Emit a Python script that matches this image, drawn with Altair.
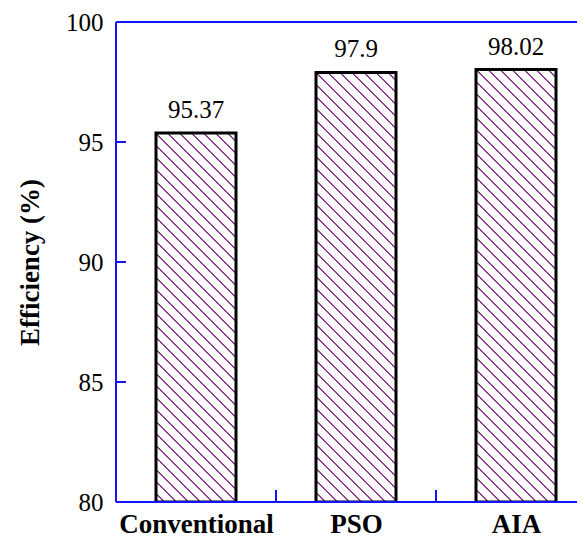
import json
import altair as alt
import pandas as pd

# ---- data ----
categories = ["Conventional", "PSO", "AIA"]
efficiency = [95.37, 97.9, 98.02]
y_tick_values = [80, 85, 90, 95, 100]
y_title = "Efficiency (%)"

# ---- layout / style ----
Y_MIN, Y_MAX = 80, 100
STEP_PX = 160          # width of one category slot in pixels
PLOT_W, PLOT_H = 461, 480   # visible part of the plot (right edge falls off the page)
BAR_FRAC = 0.5
BLUE = "#1414ff"
HATCH = "#903e93"
FONT = "Liberation Serif"

n = len(categories)
bar_px = STEP_PX * BAR_FRAC
x_max = PLOT_W / STEP_PX

df = pd.DataFrame({"category": categories, "value": efficiency})
df["idx"] = range(n)
df["x0"] = df["idx"] + (1 - BAR_FRAC) / 2
df["x1"] = df["idx"] + (1 + BAR_FRAC) / 2
df["xc"] = df["idx"] + 0.5
df["label"] = [str(v) for v in efficiency]

xs = alt.Scale(domain=[0, x_max], nice=False, zero=False)
ys = alt.Scale(domain=[Y_MIN, Y_MAX], nice=False, zero=False)


def hatch_fill(h_px, w_px, spacing=12.0, lw=2.0):
    """Diagonal '\\' hatch built as a hard-stop linear gradient."""
    L = h_px + w_px
    a = L / (w_px ** 2 + h_px ** 2)
    x2 = 1 - w_px * a
    y2 = h_px * a
    stops = [{"offset": 0.0, "color": "white"}]
    kmin = -int(w_px // spacing) - 1
    kmax = int(h_px // spacing) + 1
    for k in range(kmin, kmax + 1):
        c = k * spacing + w_px
        lo = (c - lw / 2) / L
        hi = (c + lw / 2) / L
        if hi <= 0 or lo >= 1:
            continue
        lo = round(max(lo, 0.0), 6)
        hi = round(min(hi, 1.0), 6)
        stops += [
            {"offset": lo, "color": "white"},
            {"offset": lo, "color": HATCH},
            {"offset": hi, "color": HATCH},
            {"offset": hi, "color": "white"},
        ]
    stops.append({"offset": 1.0, "color": "white"})
    return {"gradient": "linear", "x1": 1, "y1": 0, "x2": x2, "y2": y2, "stops": stops}


label_expr = json.dumps(categories) + "[floor(datum.value)]"

x_axis = alt.Axis(
    values=[float(v) for v in df["xc"]],
    labelExpr=label_expr,
    title=None,
    labelFont=FONT,
    labelFontSize=27,
    labelFontWeight="bold",
    labelColor="black",
    labelBaseline="alphabetic",
    labelPadding=30,
    ticks=False,
    domain=False,
    grid=False,
)

y_axis = alt.Axis(
    values=y_tick_values,
    title=y_title,
    titleFont=FONT,
    titleFontSize=27,
    titleFontWeight="bold",
    titleColor="black",
    titleX=-86,
    titleY=PLOT_H / 2,
    titleBaseline="middle",
    labelFont=FONT,
    labelFontSize=25,
    labelColor="black",
    labelPadding=13,
    ticks=False,
    domain=False,
    grid=False,
)


def X(field):
    return alt.X(field, scale=xs, axis=x_axis)


def Y(field):
    return alt.Y(field, scale=ys, axis=y_axis, title=y_title)


layers = []
for i, cat in enumerate(categories):
    h_px = (efficiency[i] - Y_MIN) / (Y_MAX - Y_MIN) * PLOT_H
    layers.append(
        alt.Chart(df)
        .transform_filter(alt.datum.category == cat)
        .mark_bar(fill=hatch_fill(h_px, bar_px), stroke="black", strokeWidth=3, clip=True)
        .encode(x=X("x0:Q"), x2="x1:Q", y=Y("value:Q"), y2=alt.datum(Y_MIN))
    )

text = alt.Chart(df).mark_text(
    font=FONT, fontSize=25, baseline="alphabetic", dy=-15, color="black"
).encode(x=X("xc:Q"), y=Y("value:Q"), text="label:N")

ytick_df = pd.DataFrame({"value": y_tick_values[1:-1]})
left_ticks = alt.Chart(ytick_df).mark_rule(color=BLUE, strokeWidth=2).encode(
    y=Y("value:Q"), x=alt.value(0), x2=alt.value(10)
)
xtick_df = pd.DataFrame({"x0": list(range(1, n))})
bottom_ticks = alt.Chart(xtick_df).mark_rule(color=BLUE, strokeWidth=2).encode(
    x=X("x0:Q"), y=alt.value(PLOT_H), y2=alt.value(PLOT_H - 12)
)

# frame: top, left and bottom edges (the right edge lies beyond the page)
one = df.head(1)
frame_top = alt.Chart(one).mark_rule(color=BLUE, strokeWidth=2).encode(
    x=alt.value(0), x2=alt.value(PLOT_W), y=alt.value(0)
)
frame_bottom = alt.Chart(one).mark_rule(color=BLUE, strokeWidth=2).encode(
    x=alt.value(0), x2=alt.value(PLOT_W), y=alt.value(PLOT_H)
)
frame_left = alt.Chart(one).mark_rule(color=BLUE, strokeWidth=2).encode(
    x=alt.value(0), y=alt.value(0), y2=alt.value(PLOT_H)
)

chart = (
    alt.layer(*layers, text, left_ticks, bottom_ticks,
              frame_top, frame_bottom, frame_left)
    .properties(
        width=PLOT_W,
        height=PLOT_H,
        background="white",
        autosize=alt.AutoSizeParams(type="none"),
        padding={"left": 108, "top": 14, "right": 0, "bottom": 34},
    )
    .configure_view(stroke=None)
)

chart.save("out.html", embed_options={"renderer": "svg", "actions": False})
